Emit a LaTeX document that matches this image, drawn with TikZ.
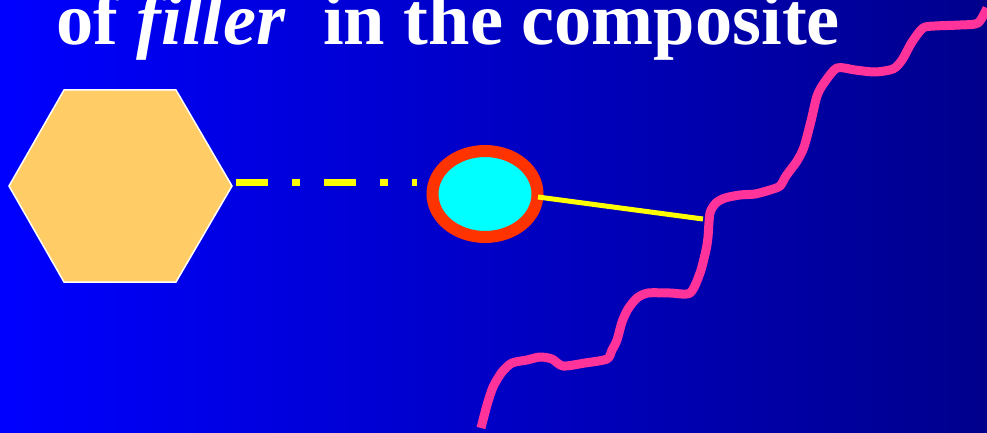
\documentclass[tikz,border=0pt]{standalone}
\usepackage{fontspec}
\setmainfont{Liberation Serif}
\usetikzlibrary{shapes.geometric}
\definecolor{bgleft}{RGB}{0,0,255}
\definecolor{bgright}{RGB}{0,0,140}
\definecolor{hexfill}{RGB}{255,204,102}
\definecolor{ringred}{RGB}{255,51,0}
\definecolor{ringfill}{RGB}{0,255,255}
\definecolor{chain}{RGB}{255,51,153}
\definecolor{linkyellow}{RGB}{255,255,0}
\begin{document}
\begin{tikzpicture}[x=1pt,y=-1pt,
  title/.style={text=white,font=\bfseries\fontsize{74.4}{80}\selectfont,inner sep=0pt},
  hexstyle/.style={fill=hexfill,draw=white,line width=1.5pt,line join=miter},
  linkdash/.style={draw=linkyellow,line width=7pt,dash pattern=on 32pt off 24pt on 8pt off 24pt},
  linkline/.style={draw=linkyellow,line width=5pt},
  ringstyle/.style={draw=ringred,fill=ringfill,line width=12pt},
  chainstyle/.style={draw=chain,line width=9pt,line join=round}]
\useasboundingbox (0,0) rectangle (987,433);
\shade[left color=bgleft,right color=bgright] (0,0) rectangle (987,433);
\node[title,anchor=base west] (t) at (56,45) {of \textit{filler}\ \ in the composite};
\draw[hexstyle] (64,90) -- (176,90) -- (232,186) -- (176,282) -- (64,282) -- (9,186) -- cycle;
\coordinate (hexr) at (236,182);
\coordinate (dashend) at (417,182);
\draw[linkdash] (hexr) -- (dashend);
\node[ringstyle,ellipse,minimum width=105pt,minimum height=86pt,inner sep=0pt] (filler) at (485,194) {};
\coordinate (chainpt) at (703,219);
\coordinate (ringr) at (538,197);
\draw[chainstyle] plot[smooth,tension=0.45] coordinates {
 (481,428) (487,405) (493,387) (502,372) (512,363) (527,360) (540,357) (552,359) (563,366)
 (585,363) (607,359) (612,350) (617,340) (622,322) (628,309) (637,298) (648,293) (670,293) (690,293)
 (700,273) (706,250) (708,237) (710,213) (716,203) (725,198) (740,195) (755,194) (770,190) (780,186)
 (786,176) (797,161) (804,147) (811,121) (817,96) (824,83) (837,68) (855,70) (875,72) (893,69)
 (902,60) (912,42) (923,28) (935,26) (960,25) (978,23) (987,8)};
\draw[linkline] (ringr) -- (chainpt);
\end{tikzpicture}
\end{document}
